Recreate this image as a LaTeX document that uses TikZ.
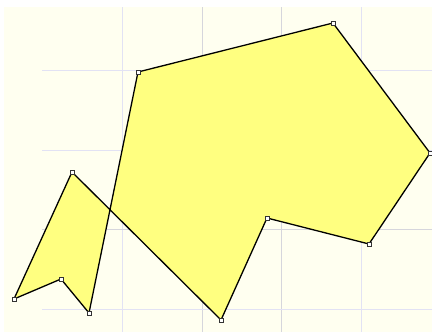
\documentclass[tikz,border=0pt]{standalone}
\definecolor{bgcol}{HTML}{FFFFF0}
\definecolor{fillcol}{HTML}{FFFF80}
\definecolor{gridA}{HTML}{E2E2F4}
\definecolor{gridB}{HTML}{D6D6DC}
\tikzset{
  vmark/.style={draw=black!80, fill=white, line width=0.5pt, minimum size=4.5pt, inner sep=0pt, rectangle},
  gridl/.style={gridA, line width=1pt},
  gridm/.style={gridB, line width=1pt},
  poly/.style={draw=black, fill=fillcol, line width=1.3pt, line join=round}
}
\begin{document}
\begin{tikzpicture}[x=1pt,y=-1pt]
\useasboundingbox (0,0) rectangle (432,332);
\fill[white] (0,0) rectangle (432,332);
\fill[bgcol] (3.5,7) rectangle (432,332);
% grid
\draw[gridl] (122,7) -- (122,332);
\draw[gridm] (202,7) -- (202,332);
\draw[gridm] (281,7) -- (281,332);
\draw[gridl] (361,7) -- (361,332);
\draw[gridl] (42,70) -- (432,70);
\draw[gridl] (42,150) -- (432,150);
\draw[gridm] (42,229) -- (432,229);
\draw[gridl] (42,309) -- (432,309);
% vertices
\coordinate (A) at (138,72);
\coordinate (B) at (333,23);
\coordinate (C) at (430,153);
\coordinate (D) at (369,244);
\coordinate (E) at (267,218);
\coordinate (F) at (221,320);
\coordinate (G) at (72,172);
\coordinate (H) at (14,299);
\coordinate (I) at (61,279);
\coordinate (J) at (89,313);
\draw[poly] (A) -- (B) -- (C) -- (D) -- (E) -- (F) -- (G) -- (H) -- (I) -- (J) -- cycle;
\foreach \p in {A,B,C,D,E,F,G,H,I,J} \node[vmark] (m\p) at (\p) {};
\end{tikzpicture}
\end{document}
